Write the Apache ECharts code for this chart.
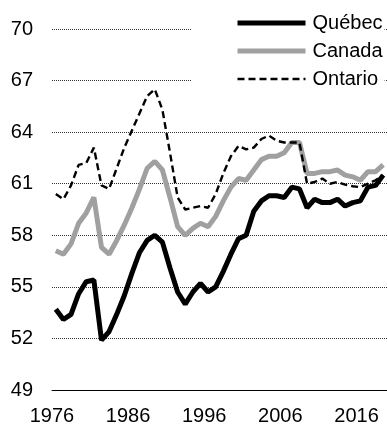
<!DOCTYPE html>
<html>
<head>
<meta charset="utf-8">
<script src="https://cdn.jsdelivr.net/npm/echarts@6/dist/echarts.min.js"></script>
<style>
html,body{margin:0;padding:0;background:#fff;}
#chart{width:387px;height:426px;}
</style>
</head>
<body>
<div id="chart"></div>
<script>
var years = [];
for (var y = 1976; y <= 2019; y++) years.push(String(y));

var quebec = [53.7, 53.1, 53.4, 54.6, 55.3, 55.4, 51.9, 52.4, 53.4, 54.5,
  55.8, 57.0, 57.7, 58.0, 57.6, 56.1, 54.7, 54.0, 54.7, 55.2,
  54.7, 55.0, 55.9, 56.9, 57.8, 58.0, 59.4, 60.0, 60.3, 60.3,
  60.2, 60.8, 60.7, 59.6, 60.1, 59.9, 59.9, 60.1, 59.7, 59.9,
  60.0, 60.8, 60.9, 61.5];

var canada = [57.1, 56.9, 57.5, 58.7, 59.3, 60.2, 57.3, 56.9, 57.7, 58.6,
  59.6, 60.7, 61.9, 62.3, 61.8, 60.2, 58.5, 58.0, 58.4, 58.7,
  58.5, 59.1, 60.0, 60.8, 61.3, 61.2, 61.8, 62.4, 62.6, 62.6,
  62.8, 63.4, 63.4, 61.6, 61.6, 61.7, 61.7, 61.8, 61.5, 61.4,
  61.2, 61.7, 61.7, 62.1];

var ontario = [60.4, 60.1, 60.9, 62.1, 62.2, 63.1, 60.9, 60.7, 61.9, 63.1,
  64.1, 65.1, 66.1, 66.5, 65.3, 62.8, 60.2, 59.5, 59.6, 59.7,
  59.6, 60.4, 61.6, 62.6, 63.2, 63.0, 63.1, 63.6, 63.8, 63.5,
  63.4, 63.4, 63.4, 61.0, 61.1, 61.3, 61.0, 61.1, 60.95, 60.85,
  60.8, 61.0, 61.2, 61.5];

var yTicks = { min: 49, max: 70, step: 3 };

var font = 'Arial, "Liberation Sans", sans-serif';
var chart = echarts.init(document.getElementById('chart'), null, {renderer: 'canvas'});
chart.setOption({
  animation: false,
  backgroundColor: '#fff',
  grid: { left: 52, top: 29, width: 338, height: 365, containLabel: false },
  legend: {
    orient: 'vertical',
    left: 192,
    top: 5,
    padding: [8, 2, 10, 43],
    backgroundColor: '#fff',
    itemWidth: 68,
    itemHeight: 20,
    itemGap: 8,
    itemStyle: { opacity: 0 },
    textStyle: { fontFamily: font, fontSize: 20, color: '#000', padding: [0, 0, 0, 2] },
    data: [
      { name: 'Québec', lineStyle: { width: 5 } },
      { name: 'Canada', lineStyle: { width: 5 } },
      { name: 'Ontario', lineStyle: { width: 2.4 } }
    ]
  },
  xAxis: {
    type: 'category',
    data: years,
    boundaryGap: true,
    axisLine: { lineStyle: { color: '#000', width: 1 } },
    axisTick: { interval: 9, length: 6, alignWithLabel: false, lineStyle: { color: '#000' } },
    axisLabel: { interval: 9, margin: 16, fontFamily: font, fontSize: 20, color: '#000', padding: [0, 7.7, 0, 0] },
    splitLine: { show: false }
  },
  yAxis: {
    type: 'value',
    min: yTicks.min,
    max: yTicks.max,
    interval: yTicks.step,
    axisLine: { show: false },
    axisTick: { show: false },
    axisLabel: { margin: 19, fontFamily: font, fontSize: 20, color: '#000' },
    splitLine: { lineStyle: { color: '#333', width: 1, type: [1, 1] } }
  },
  series: [
    { name: 'Canada', type: 'line', data: canada, symbol: 'none', z: 2,
      lineStyle: { color: '#a0a0a0', width: 5 }, itemStyle: { color: '#a0a0a0' } },
    { name: 'Ontario', type: 'line', data: ontario, symbol: 'none', z: 3,
      lineStyle: { color: '#000', width: 2.4, type: [7, 4] }, itemStyle: { color: '#000' } },
    { name: 'Québec', type: 'line', data: quebec, symbol: 'none', z: 4,
      lineStyle: { color: '#000', width: 5 }, itemStyle: { color: '#000' } }
  ]
});
</script>
</body>
</html>
